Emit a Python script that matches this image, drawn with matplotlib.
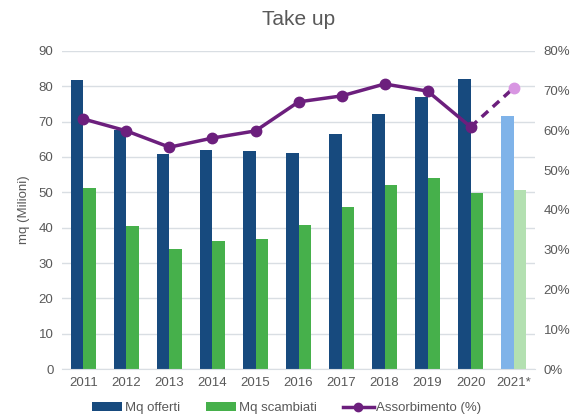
import matplotlib.pyplot as plt
import numpy as np
from matplotlib.ticker import PercentFormatter

plt.rcParams['font.family'] = ['Liberation Sans', 'DejaVu Sans']

# dati
anni = ['2011', '2012', '2013', '2014', '2015', '2016', '2017', '2018', '2019', '2020', '2021*']
mq_offerti = [81.7, 67.5, 60.8, 62.1, 61.6, 61.0, 66.6, 72.3, 77.1, 82.2, 71.7]
mq_scambiati = [51.3, 40.4, 34.0, 36.1, 36.9, 40.8, 45.8, 52.0, 54.0, 49.9, 50.8]
assorbimento = [62.9, 59.9, 55.8, 58.1, 59.9, 67.2, 68.7, 71.7, 69.9, 60.9, 70.7]

blu = '#174A7E'
verde = '#46B04B'
viola = '#6C1F7D'
grigio = '#595959'

x = np.arange(len(anni))
w = 0.29

fig = plt.figure(figsize=(5.73, 4.2), dpi=100)
ax = fig.add_axes([0.108, 0.1214, 0.826, 0.7572])
ax2 = ax.twinx()

col_off = [blu] * (len(anni) - 1) + ['#7FB3E9']
col_sca = [verde] * (len(anni) - 1) + ['#B3E0B1']
ax.bar(x - w / 2, mq_offerti, w, color=col_off, label='Mq offerti', zorder=2)
ax.bar(x + w / 2, mq_scambiati, w, color=col_sca, label='Mq scambiati', zorder=2)

ax2.plot(x[:-1], assorbimento[:-1], color=viola, lw=2.5, marker='o', ms=7.5, label='Assorbimento (%)')
ax2.plot(x[-2:], assorbimento[-2:], color=viola, lw=2.5, ls=(0, (2.5, 1.8)))
ax2.plot(x[-1], assorbimento[-1], 'o', color='#D896E2', ms=7.5)

ax.set_xlim(-0.5, len(anni) - 0.5)
ax.set_ylim(0, 90)
ax.set_yticks(range(0, 91, 10))
ax2.set_ylim(0, 80)
ax2.set_yticks(range(0, 81, 10))
ax2.yaxis.set_major_formatter(PercentFormatter(decimals=0))
ax.set_xticks(x)
ax.set_xticklabels(anni)

ax.grid(axis='y', color='#D9DEE3', lw=1, zorder=0)
ax.set_axisbelow(True)
for a in (ax, ax2):
    for s in a.spines.values():
        s.set_visible(False)
    a.tick_params(length=0, labelsize=9.5, colors=grigio, pad=6)
ax.spines['bottom'].set_visible(True)
ax.spines['bottom'].set_color('#D9DEE3')

ax.set_ylabel('mq (Milioni)', color=grigio, fontsize=9.5, labelpad=6)
ax.set_title('Take up', color=grigio, fontsize=15, pad=19)

h1, l1 = ax.get_legend_handles_labels()
h2, l2 = ax2.get_legend_handles_labels()
fig.legend(h1 + h2, l1 + l2, loc='lower center', bbox_to_anchor=(0.5, -0.015), ncol=3, frameon=False,
           fontsize=9.5, labelcolor=grigio, handlelength=2.3, handletextpad=0.2, columnspacing=2.0,
           markerscale=0.8)

fig.savefig('out.png', dpi=100)
